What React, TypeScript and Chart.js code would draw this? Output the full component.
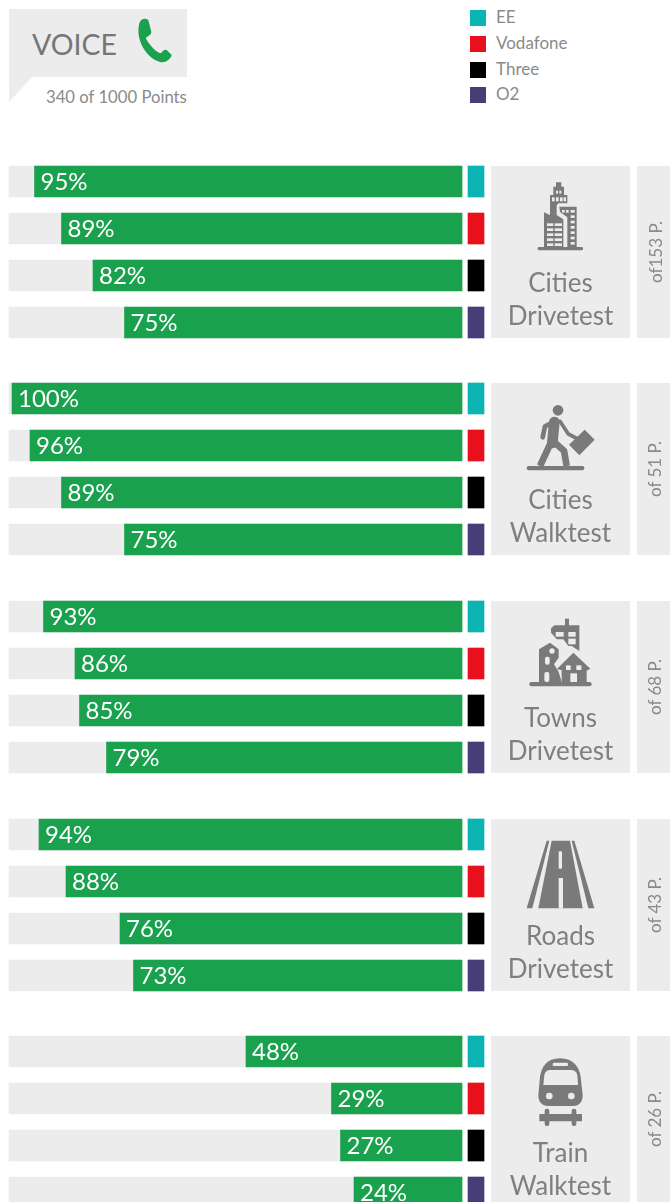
import React, { useEffect, useRef } from "react";
import { Chart, registerables } from "chart.js";

Chart.register(...registerables);

const carriers = ["EE", "Vodafone", "Three", "O2"];
const carrierColors = ["#0bb3b3", "#e8101c", "#000000", "#483d76"];

const citiesDrivetest = [95, 89, 82, 75];
const citiesWalktest = [100, 96, 89, 75];
const townsDrivetest = [93, 86, 85, 79];
const roadsDrivetest = [94, 88, 76, 73];
const trainWalktest = [48, 29, 27, 24];

const groupTitles = [
  ["Cities", "Drivetest"],
  ["Cities", "Walktest"],
  ["Towns", "Drivetest"],
  ["Roads", "Drivetest"],
  ["Train", "Walktest"],
];
const groupPoints = ["of153 P.", "of 51 P.", "of 68 P.", "of 43 P.", "of 26 P."];
const groupValues = [citiesDrivetest, citiesWalktest, townsDrivetest, roadsDrivetest, trainWalktest];

const GROUP_TOPS = [166, 383, 601, 819, 1036];
const ICON_TOPS = [160, 378, 596, 814, 1030];
const GREEN = "#1aa14d";
const PANEL = "#ececec";
const ICON = "#7a7a7a";
const FONT = "Lato, sans-serif";

// x scale: 4.5 px per percent, 0% at x=462 in a 486px canvas
const X_MAX = 100.67;
const X_MIN_RIGHT = -5.33;
const TRACK = 100.67;
const SWATCH_FROM = -1.33;
const SWATCH_TO = -4.89;

const labelPlugin = {
  id: "pctLabels",
  afterDatasetsDraw(chart: any) {
    const meta = chart.getDatasetMeta(1);
    const ctx = chart.ctx;
    ctx.save();
    ctx.font = `24px ${FONT}`;
    ctx.fillStyle = "#ffffff";
    ctx.textBaseline = "middle";
    ctx.textAlign = "left";
    meta.data.forEach((bar: any, i: number) => {
      ctx.fillText(`${chart.data.datasets[1].data[i]}%`, bar.x + 6, bar.y + 1);
    });
    ctx.restore();
  },
};

function GroupChart({ values, top }: { values: number[]; top: number }) {
  const ref = useRef<HTMLCanvasElement>(null);
  useEffect(() => {
    const chart = new Chart(ref.current!, {
      type: "bar",
      data: {
        labels: carriers,
        datasets: [
          {
            label: "carrier",
            data: carriers.map(() => [SWATCH_FROM, SWATCH_TO]) as any,
            backgroundColor: carrierColors,
            order: 3,
          },
          { label: "score", data: values, backgroundColor: GREEN, order: 1 },
          { label: "track", data: carriers.map(() => TRACK), backgroundColor: PANEL, order: 2 },
        ],
      },
      options: {
        indexAxis: "y",
        animation: false,
        responsive: false,
        maintainAspectRatio: false,
        layout: { padding: 0 },
        datasets: { bar: { grouped: false, barThickness: 31, borderWidth: 0 } },
        plugins: { legend: { display: false }, tooltip: { enabled: false } },
        scales: {
          x: { display: false, reverse: true, min: X_MIN_RIGHT, max: X_MAX + 2 },
          y: { display: false, offset: true },
        },
      } as any,
      plugins: [labelPlugin],
    });
    return () => chart.destroy();
  }, [values]);
  return (
    <canvas
      ref={ref}
      width={486}
      height={188}
      style={{ position: "absolute", left: 0, top: top - 8, width: 486, height: 188 }}
    />
  );
}

const holes = { fill: PANEL };

function BuildingIcon() {
  return (
    <g>
      <rect x={233} y={261} width={136} height={10} rx={4} />
      <path d="M288,67 H304 V80 H312 V105 H322 V130 H296 L290,136 V165 L310,178 V261 H252 V157 L270,165 V105 H280 V80 H288 Z" />
      <path d="M298,140 H350 V261 H322 V172 L300,156 Z" />
      <g {...holes}>
        <rect x={288} y={92} width={6} height={9} />
        <rect x={298} y={92} width={6} height={9} />
        <rect x={276} y={112} width={8} height={12} />
        <rect x={288} y={112} width={8} height={12} />
        <rect x={300} y={112} width={8} height={12} />
        <rect x={311} y={112} width={7} height={12} />
        {[190, 205, 220, 235, 250].map((y) => (
          <g key={y}>
            <rect x={261} y={y} width={19} height={8} />
            <rect x={284} y={y} width={22} height={8} />
          </g>
        ))}
        {[150, 166, 182, 198, 214, 230, 246].map((y) => (
          <rect key={y} x={332} y={y} width={12} height={8} />
        ))}
        <rect x={306} y={150} width={8} height={8} />
        <rect x={318} y={150} width={8} height={8} />
      </g>
    </g>
  );
}

function WalkerIcon() {
  return (
    <g>
      <circle cx={294} cy={97} r={16} />
      <rect x={200} y={264} width={173} height={13} rx={6} />
      <path d="M285,130 L255,145 L248,178" fill="none" stroke={ICON} strokeWidth={14} strokeLinecap="round" strokeLinejoin="round" />
      <path d="M300,130 L325,168 L348,180" fill="none" stroke={ICON} strokeWidth={11} strokeLinecap="round" strokeLinejoin="round" />
      <path d="M283,132 L277,195" fill="none" stroke={ICON} strokeWidth={32} strokeLinecap="round" />
      <path d="M272,195 L240,264" fill="none" stroke={ICON} strokeWidth={20} />
      <path d="M282,192 L312,218 L320,264" fill="none" stroke={ICON} strokeWidth={20} strokeLinejoin="round" />
      <path d="M374,155 L404,185 L358,232 L327,200 Z" />
    </g>
  );
}

function TownIcon() {
  return (
    <g>
      <rect x={208} y={258} width={187} height={13} rx={6} />
      <rect x={315} y={68} width={12} height={24} />
      <path d="M273,97 L283,88 H358 V165 L335,150 H325 L310,130 H290 L273,110 Z" />
      <path d="M237,160 L270,140 L296,160 V185 L282,205 L296,228 L305,258 H237 Z" />
      <path d="M290,220 L340,170 L391,218 L380,224 V258 H305 V222 Z" />
      <g {...holes}>
        <rect x={287} y={108} width={24} height={14} />
        <rect x={325} y={108} width={22} height={14} />
        <rect x={325} y={128} width={22} height={17} />
        <circle cx={276} cy={165} r={8} />
        <rect x={255} y={182} width={14} height={24} rx={6} />
        <rect x={253} y={228} width={15} height={30} rx={6} />
        <rect x={318} y={208} width={14} height={14} />
        <rect x={349} y={208} width={15} height={14} />
        <rect x={331} y={232} width={20} height={26} />
      </g>
    </g>
  );
}

function RoadIcon() {
  return (
    <g>
      <path d="M260,80 L268,80 L217,283 H200 Z" />
      <path d="M335,80 L343,80 L403,283 H385 Z" />
      <path d="M275,80 H330 L368,283 H235 Z" />
      <g {...holes}>
        <rect x={296} y={112} width={10} height={52} />
        <rect x={296} y={192} width={13} height={91} />
      </g>
    </g>
  );
}

function TrainIcon() {
  return (
    <g>
      <path d="M300,85 C260,85 245,110 240,140 L235,195 C235,215 245,228 265,228 H340 C358,228 368,215 368,195 L362,140 C357,110 340,85 300,85 Z" />
      <g {...holes}>
        <path d="M250,165 L253,135 C255,125 262,120 270,120 H332 C342,120 350,125 352,135 L354,165 Z" />
        <rect x={278} y={98} width={46} height={10} rx={4} />
        <circle cx={268} cy={198} r={10} />
        <circle cx={334} cy={198} r={10} />
      </g>
      <rect x={238} y={252} width={128} height={22} rx={2} />
      <rect x={254} y={236} width={14} height={52} rx={6} />
      <rect x={335} y={236} width={14} height={52} rx={6} />
    </g>
  );
}

const icons = [BuildingIcon, WalkerIcon, TownIcon, RoadIcon, TrainIcon];

const abs = (s: React.CSSProperties): React.CSSProperties => ({ position: "absolute", ...s });

export default function App() {
  return (
    <div style={abs({ left: 0, top: 0, width: 670, height: 1202, overflow: "hidden", background: "#fff", fontFamily: FONT })}>
      <svg width={220} height={120} style={abs({ left: 0, top: 0 })} viewBox="0 0 660 360">
        <path d="M27,27 H561 V231 H96 L27,306 Z" fill={PANEL} />
        <path
          d="M418,70 C420,58 435,52 445,60 L454,95 C454,106 442,108 437,114 C445,130 465,155 482,160 C488,155 492,146 500,150 L515,165 C512,178 495,190 480,186 C440,175 405,120 418,70 Z"
          fill={GREEN}
        />
      </svg>
      <div style={abs({ left: 32, top: 25, fontSize: 28.5, lineHeight: "38px", color: "#767676" })}>VOICE</div>
      <div style={abs({ left: 46, top: 86, fontSize: 16.7, lineHeight: "22px", color: "#8a8a8a", whiteSpace: "nowrap" })}>340 of 1000 Points</div>

      {carriers.map((c, i) => {
        const y = [10, 36, 62, 87][i];
        return (
          <React.Fragment key={c}>
            <div style={abs({ left: 470, top: y, width: 16, height: 16, background: carrierColors[i] })} />
            <div style={abs({ left: 496, top: y - 3, fontSize: 17, lineHeight: "20px", color: "#8a8a8a" })}>{c}</div>
          </React.Fragment>
        );
      })}

      {groupValues.map((values, g) => {
        const top = GROUP_TOPS[g];
        const Icon = icons[g];
        return (
          <React.Fragment key={g}>
            <GroupChart values={values} top={top} />
            <div style={abs({ left: 491, top, width: 139, height: 172, background: PANEL })} />
            <div style={abs({ left: 637, top, width: 33, height: 172, background: PANEL })} />
            <svg
              width={210}
              height={185}
              viewBox="0 0 630 555"
              fill={ICON}
              style={abs({ left: 460, top: ICON_TOPS[g] })}
            >
              <Icon />
            </svg>
            {groupTitles[g].map((t, k) => (
              <div
                key={t}
                style={abs({
                  left: 491,
                  width: 139,
                  top: top + 100 + k * 33,
                  textAlign: "center",
                  fontSize: 26,
                  lineHeight: "32px",
                  color: "#7f7f7f",
                })}
              >
                {t}
              </div>
            ))}
            <div
              style={abs({
                left: 639,
                width: 33,
                top: g === 4 ? top - 3 : top,
                height: 172,
                display: "flex",
                alignItems: "center",
                justifyContent: "center",
              })}
            >
              <div
                style={{
                  transform: "rotate(-90deg)",
                  whiteSpace: "nowrap",
                  fontSize: 17,
                  lineHeight: "20px",
                  color: "#8a8a8a",
                }}
              >
                {groupPoints[g]}
              </div>
            </div>
          </React.Fragment>
        );
      })}
    </div>
  );
}
